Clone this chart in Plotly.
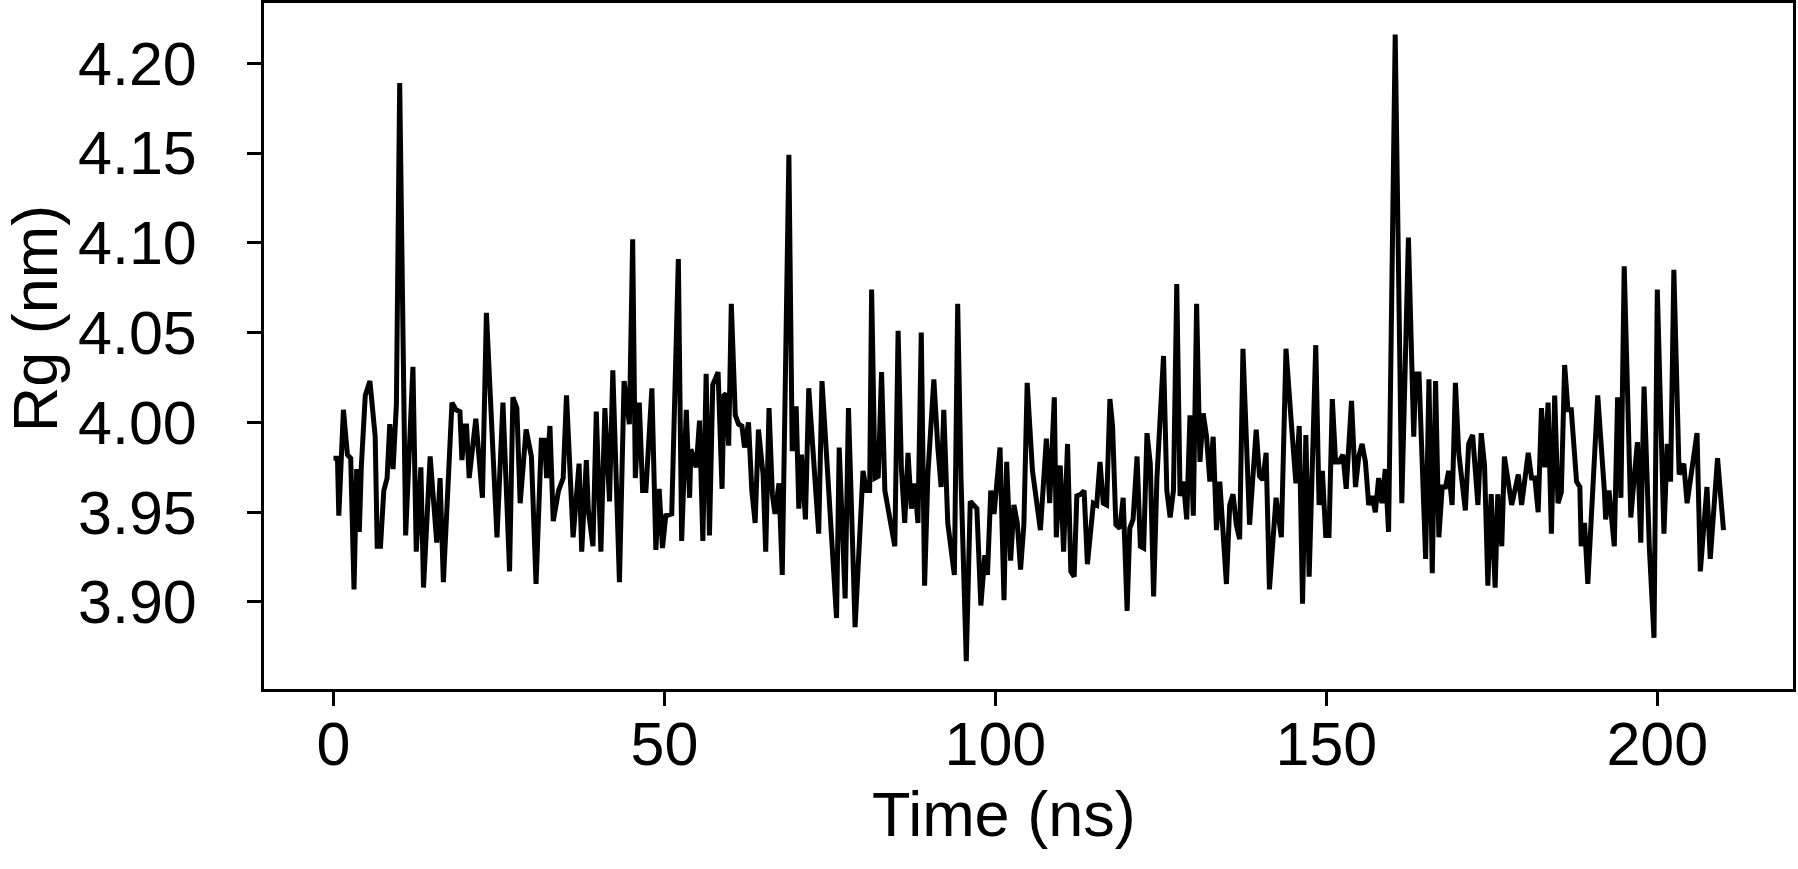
import plotly.graph_objects as go

time_ns = [
    0.0, 0.6, 0.8, 1.5, 2.1, 2.6, 3.1, 3.5, 3.9, 4.2, 4.8, 5.5, 6.3, 6.6, 7.1, 7.6, 8.1, 8.5, 9.0, 9.5,
    10.0, 10.9, 12.0, 12.5, 13.2, 13.6, 14.6, 15.6, 16.1, 16.6, 17.9,
    18.5, 19.1, 19.4, 19.9, 20.1, 20.5, 21.5, 22.5, 23.1, 24.7, 25.6, 26.6, 27.1, 27.7, 28.2, 29.1, 29.9,
    30.6, 31.4, 31.9, 32.2, 32.7, 33.2, 34.0, 34.7, 35.2, 36.2, 37.1, 37.5,
    38.2, 38.5, 39.2, 39.7, 40.4, 41.0, 41.7, 42.2, 43.2, 43.9, 44.7, 45.2, 45.6, 46.2, 46.7, 47.2, 48.1,
    48.7, 49.2, 49.7, 50.2, 51.1, 52.1, 52.6, 53.3, 53.8, 54.0, 54.8, 55.3, 55.8, 56.3, 56.8,
    57.3, 58.1, 58.7, 59.0, 59.3, 59.7, 60.1, 60.7, 61.2, 61.7, 62.1, 62.7, 63.2, 63.7, 64.2, 64.9, 65.3,
    65.8, 66.3, 66.7, 67.3, 67.8, 68.8, 69.3, 69.9, 70.3, 70.7, 71.3, 71.8, 72.5, 73.3, 73.8,
    76.0, 76.4, 77.3, 77.8, 78.8, 80.0, 80.5, 81.0, 81.3, 81.8, 82.3, 82.8, 83.3, 84.8, 85.3, 85.8, 86.3,
    86.8, 87.3, 87.8, 88.3, 88.8, 89.3, 89.8, 90.7, 91.3, 91.8, 92.2, 92.8, 93.8, 94.3, 94.8,
    95.6, 96.2, 96.5, 97.2, 97.8, 98.4, 98.8, 99.3, 99.8, 100.2, 100.7, 101.3, 101.7, 102.3, 102.8, 103.3,
    103.8, 104.3, 104.8, 105.6, 106.8, 107.7, 108.2, 108.9, 109.2, 109.8, 110.3, 110.9, 111.4, 111.9,
    112.3, 112.9, 113.4, 113.9,
    114.8, 115.3, 115.8, 116.3, 116.8, 117.3, 117.7, 118.2, 118.8, 119.3, 119.9, 120.3, 120.8, 121.4,
    121.9, 122.4, 122.9, 123.4, 123.9, 124.4, 125.4, 125.9, 126.4, 126.9, 127.4, 127.9, 128.4, 128.9,
    129.4, 129.9, 130.4, 130.9, 131.4, 131.9, 132.4, 132.9, 133.4,
    133.9, 134.9, 135.4, 135.9, 136.4, 136.9, 137.4, 138.4, 139.4, 139.9, 140.4, 140.9, 141.4, 142.4,
    143.2, 143.9, 144.7, 145.4, 145.9, 146.4, 146.9, 147.4, 148.4, 148.9, 149.4, 149.9, 150.4, 150.9,
    151.4, 151.9, 152.5, 153.0,
    153.8, 154.4, 154.9, 155.4, 155.9, 156.4, 156.9, 157.4, 157.9, 158.4, 158.9, 159.4, 160.4, 161.4,
    162.4, 163.2, 163.5, 164.0, 165.0, 165.5, 166.0, 166.5, 167.0, 167.5, 168.0, 168.5, 169.0, 169.5,
    170.0, 170.5, 171.0, 171.5, 172.1,
    172.9, 173.4, 173.9, 174.4, 174.9, 175.5, 175.9, 176.5, 176.9, 178.0, 179.0, 179.5, 180.5, 181.0,
    181.5, 182.0, 182.5, 183.0, 183.5, 184.0, 184.5, 185.0, 185.5, 186.0, 186.5, 187.0, 187.8, 188.3,
    188.5, 189.0, 189.5, 191.0, 192.0,
    192.2, 192.7, 193.5, 194.0, 194.5, 195.0, 196.0, 196.5, 197.0, 197.5, 198.0, 198.8, 199.5, 200.0,
    201.0, 201.5, 202.0, 202.5, 203.3, 204.0, 204.5, 206.0, 206.5, 207.5, 208.0, 209.1, 210.0,
]

rg_nm = [
    3.980, 3.980, 3.948, 4.007, 3.982, 3.980, 3.907, 3.974, 3.939, 3.975, 4.015, 4.023, 3.992, 3.931, 3.931, 3.962, 3.969, 3.999, 3.974, 4.010,
    4.189, 3.937, 4.031, 3.928, 3.975, 3.908, 3.981, 3.933, 3.969, 3.911, 4.011,
    4.007, 4.006, 3.979, 3.998, 3.998, 3.969, 4.002, 3.958, 4.061, 3.936, 4.011, 3.917, 4.014, 4.008, 3.955, 3.996, 3.981,
    3.910, 3.990, 3.990, 3.969, 3.998, 3.945, 3.962, 3.969, 4.015, 3.936, 3.977, 3.928,
    3.979, 3.951, 3.931, 4.006, 3.928, 4.008, 3.956, 4.029, 3.911, 4.023, 3.999, 4.102, 3.969, 4.011, 3.962, 3.962, 4.019,
    3.929, 3.963, 3.930, 3.948, 3.949, 4.091, 3.934, 4.007, 3.958, 3.985, 3.975, 4.001, 3.934, 4.027, 3.937,
    4.021, 4.028, 3.963, 4.015, 4.016, 3.987, 4.066, 4.004, 3.999, 3.998, 3.986, 4.000, 3.962, 3.944, 3.996, 3.971, 3.928,
    4.008, 3.960, 3.949, 3.966, 3.915, 4.149, 3.984, 4.009, 3.952, 3.982, 3.946, 4.019, 3.985, 3.938, 4.023,
    3.891, 3.986, 3.902, 4.008, 3.886, 3.973, 3.962, 3.962, 4.074, 3.969, 3.970, 4.028, 3.962, 3.931, 4.051, 3.974, 3.944,
    3.983, 3.952, 3.966, 3.944, 4.050, 3.909, 3.971, 4.024, 3.986, 3.964, 4.007, 3.944, 3.915, 4.066, 3.969,
    3.867, 3.956, 3.955, 3.952, 3.898, 3.926, 3.915, 3.962, 3.949, 3.964, 3.986, 3.901, 3.978, 3.923, 3.954, 3.944,
    3.918, 3.943, 4.022, 3.973, 3.940, 3.991, 3.955, 4.014, 3.936, 3.976, 3.928, 3.988, 3.917, 3.914,
    3.959, 3.960, 3.962, 3.921,
    3.955, 3.954, 3.978, 3.955, 3.954, 4.013, 3.998, 3.943, 3.941, 3.958, 3.895, 3.941, 3.946, 3.981,
    3.931, 3.930, 3.994, 3.977, 3.903, 3.969, 4.037, 3.962, 3.947, 3.962, 4.077, 3.959, 3.967, 3.946,
    4.004, 3.948, 4.066, 3.978, 4.005, 3.992, 3.967, 3.992, 3.940,
    3.967, 3.910, 3.954, 3.960, 3.943, 3.935, 4.041, 3.943, 3.996, 3.970, 3.968, 3.983, 3.907, 3.958,
    3.936, 4.041, 4.000, 3.966, 3.998, 3.899, 3.993, 3.914, 4.043, 3.954, 3.973, 3.937, 3.937, 4.013,
    3.978, 3.978, 3.982, 3.963,
    4.012, 3.964, 3.981, 3.988, 3.978, 3.954, 3.959, 3.950, 3.969, 3.955, 3.974, 3.939, 4.216, 3.955,
    4.103, 3.992, 4.027, 4.027, 3.924, 4.024, 3.916, 4.023, 3.936, 3.964, 3.964, 3.973, 3.954, 4.022,
    3.983, 3.969, 3.951, 3.988, 3.993,
    3.954, 3.994, 3.976, 3.909, 3.960, 3.908, 3.960, 3.931, 3.981, 3.954, 3.971, 3.954, 3.983, 3.969,
    3.969, 3.950, 4.008, 3.975, 4.011, 3.938, 4.015, 3.955, 3.961, 4.032, 4.007, 4.007, 3.967, 3.964,
    3.931, 3.944, 3.910, 4.015, 3.962,
    3.946, 3.962, 3.931, 4.014, 3.958, 4.087, 3.947, 3.969, 3.989, 3.933, 4.020, 3.930, 3.880, 4.074,
    3.938, 3.988, 3.967, 4.085, 3.971, 3.977, 3.955, 3.994, 3.917, 3.964, 3.924, 3.980, 3.940,
]

x_ticks = [0, 50, 100, 150, 200]
y_ticks = [3.90, 3.95, 4.00, 4.05, 4.10, 4.15, 4.20]
x_title = "Time (ns)"
y_title = "Rg (nm)"

FONT = "Liberation Sans, Arial, Helvetica, sans-serif"
FS = 61

fig = go.Figure()
fig.add_trace(go.Scatter(
    x=time_ns, y=rg_nm, mode="lines",
    line=dict(color="black", width=5),
    showlegend=False, hoverinfo="skip",
))

axis_common = dict(
    showline=True, mirror=True, linecolor="black", linewidth=3,
    ticks="outside", ticklen=14, tickwidth=3, tickcolor="black",
    showgrid=False, zeroline=False, automargin=False,
    tickfont=dict(family=FONT, size=FS, color="black"),
)

fig.update_xaxes(
    range=[-10.5, 220.5], tickvals=x_ticks,
    ticktext=[str(v) for v in x_ticks],
    ticklabelstandoff=-14,
    **axis_common,
)
fig.update_yaxes(
    range=[3.8515, 4.2336], tickvals=y_ticks,
    ticktext=[f"{v:.2f}" for v in y_ticks],
    ticklabelstandoff=38,
    **axis_common,
)

fig.add_annotation(
    text=x_title, xref="paper", yref="paper", x=0.484, y=-0.182,
    xanchor="center", yanchor="middle", showarrow=False,
    font=dict(family=FONT, size=63, color="black"),
)
fig.add_annotation(
    text=y_title, xref="paper", yref="paper", x=-0.150, y=0.540,
    xanchor="center", yanchor="middle", showarrow=False, textangle=-90,
    font=dict(family=FONT, size=63, color="black"),
)

fig.update_layout(
    width=1798, height=869,
    margin=dict(l=264, r=5, t=3, b=180, pad=0, autoexpand=False),
    paper_bgcolor="white", plot_bgcolor="white",
    font=dict(family=FONT, size=FS, color="black"),
)

fig.write_html(
    "out.html",
    config={"displayModeBar": False},
    post_script="document.body.style.margin='0';",
)
